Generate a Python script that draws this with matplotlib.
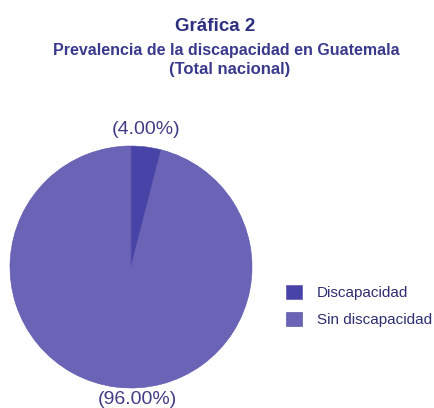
import matplotlib.pyplot as plt
from matplotlib.patches import Patch

categorias = ["Discapacidad", "Sin discapacidad"]
porcentajes = [4.00, 96.00]
colores = ["#4843a6", "#6a63b6"]

plt.rcParams['font.family'] = ['Liberation Sans', 'DejaVu Sans']

W, H = 435, 408
fig = plt.figure(figsize=(W / 100, H / 100), dpi=100)
fig.patch.set_facecolor("white")

# pie area: center (131, 267) px, radius 121 px
cx, cy, r = 131, 267, 121
ax = fig.add_axes([(cx - r) / W, (H - cy - r) / H, 2 * r / W, 2 * r / H])
ax.pie(porcentajes, colors=colores, startangle=90, counterclock=False,
       wedgeprops=dict(edgecolor="#5a54ad", linewidth=0.4))
ax.set_xlim(-1, 1)
ax.set_ylim(-1, 1)
ax.set_aspect("auto")
ax.axis("off")

txt_color = "#403d85"
ax.text((146 - cx) / r, (cy - 130) / r, f"({porcentajes[0]:.2f}%)",
        ha="center", va="center", fontsize=14, color=txt_color, clip_on=False)
ax.text((137 - cx) / r, (cy - 400) / r, f"({porcentajes[1]:.2f}%)",
        ha="center", va="center", fontsize=14, color=txt_color, clip_on=False)

fig.text(215 / W, 1 - 31 / H, "Gráfica 2", ha="center", va="baseline",
         fontsize=13.5, fontweight="bold", color="#2e3080")
fig.text(226 / W, 1 - 55 / H, "Prevalencia de la discapacidad en Guatemala",
         ha="center", va="baseline", fontsize=11.5, fontweight="bold", color="#3a3a8c")
fig.text(230 / W, 1 - 74 / H, "(Total nacional)",
         ha="center", va="baseline", fontsize=12, fontweight="bold", color="#3a3a8c")

handles = [Patch(facecolor=c, edgecolor="#4a449e", linewidth=0.4) for c in colores]
fig.legend(handles, categorias, loc="center left",
           bbox_to_anchor=(286 / W, 1 - 306 / H), frameon=False,
           borderpad=0, borderaxespad=0,
           fontsize=11, labelcolor="#2e2e70", handlelength=1.05, handleheight=1.05,
           handletextpad=0.95, labelspacing=0.75)

fig.savefig("out.png", dpi=100)
